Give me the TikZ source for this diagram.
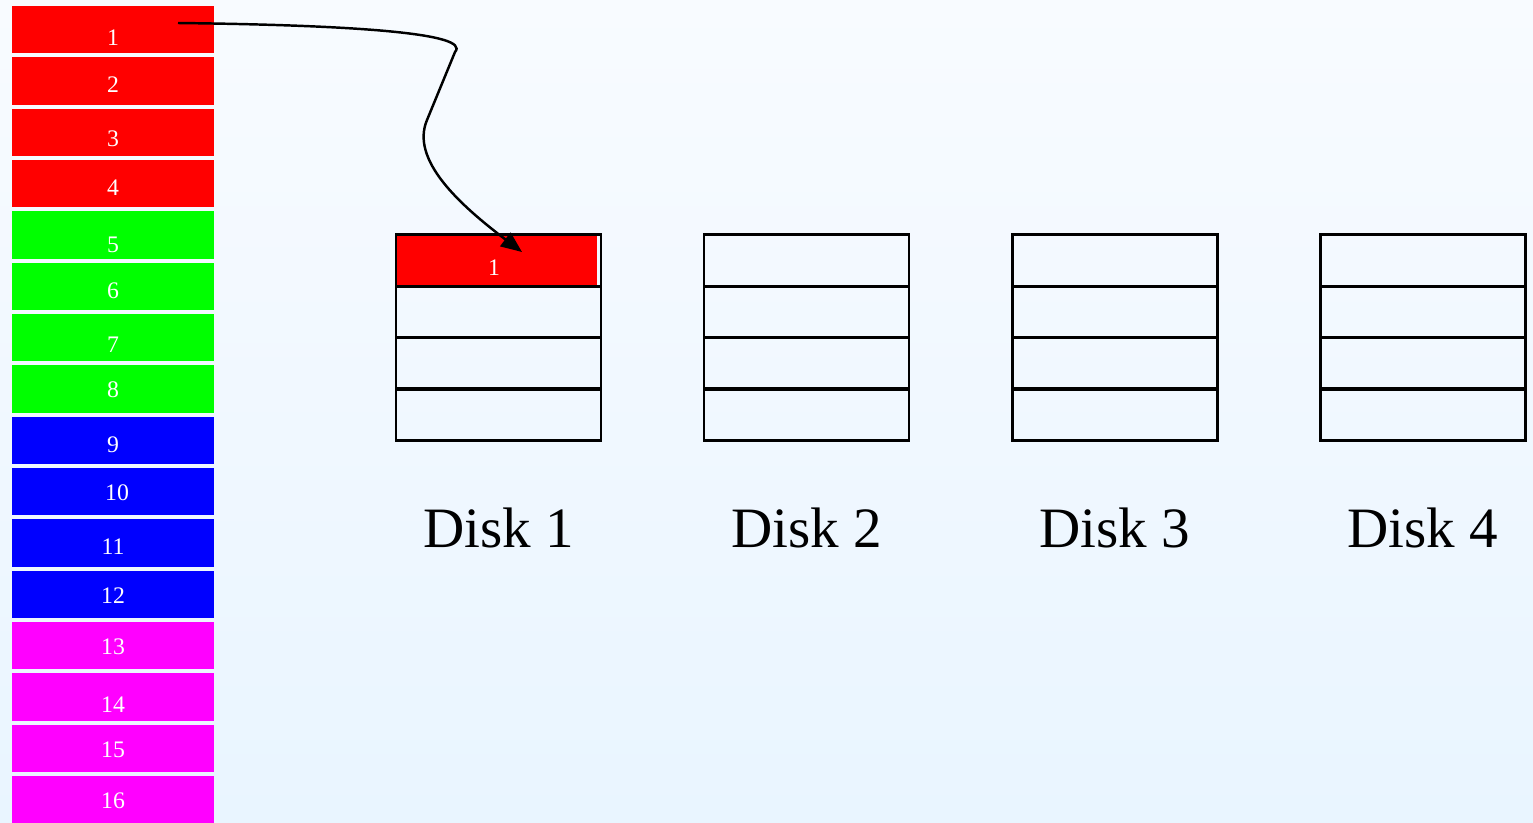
\documentclass[tikz,border=0pt]{standalone}
\usepackage{fontspec}
\setmainfont{Liberation Serif}
\usetikzlibrary{arrows.meta}
\definecolor{bgtop}{RGB}{248,251,255}
\definecolor{bgbot}{RGB}{233,245,255}
\definecolor{pgreen}{RGB}{0,255,0}
\definecolor{pmag}{RGB}{255,0,255}
\begin{document}
\begin{tikzpicture}[x=0.02cm,y=-0.02cm,
 blk/.style={rectangle,inner sep=0,minimum width=4.04cm,minimum height=0.95cm,draw=none},
 num/.style={text=white,font=\fontsize{13.5}{13.5}\selectfont,inner sep=0},
 cell/.style={rectangle,draw=black,line width=1.6pt,inner sep=0,minimum width=4.1cm,minimum height=1.03cm},
 disklabel/.style={font=\fontsize{32.5}{32.5}\selectfont,inner sep=0},
 link/.style={line width=1.4pt,-{Triangle[length=0.42cm,width=0.34cm]}}]
\shade[top color=bgtop,bottom color=bgbot] (0,0) rectangle (1533,822);
\useasboundingbox (0,0) rectangle (1533,822);
% stripe blocks
\foreach \i/\c/\lx/\ly in {1/red/113/38,2/red/113/85,3/red/113/139,4/red/113/188,
  5/pgreen/113/245,6/pgreen/113/291,7/pgreen/113/345,8/pgreen/113/390,
  9/blue/113/445,10/blue/117/493,11/blue/113/547,12/blue/113/596,
  13/pmag/113/647,14/pmag/113/705,15/pmag/113/750,16/pmag/113/801}{
  \node[blk,fill=\c] (b\i) at (113,{6+(\i-1)*51.33+23.75}) {};
  \node[num] (n\i) at (\lx,\ly) {\i};
}
% disk 1 first cell fill
\fill[red] (396,235) rectangle (597,286);
% disks
\foreach \d/\x in {1/498.5,2/806.5,3/1115,4/1423}{
  \foreach \r/\y in {1/260.5,2/312,3/363.5,4/414.5}{
    \node[cell] (d\d r\r) at (\x,\y) {};
  }
  \node[disklabel] (lab\d) at (\x,528) {Disk \d};
}
\node[num] (c1) at (494,268) {1};
% arrow
\coordinate (src) at (178,23);
\coordinate (tip) at (522,252);
\draw[link] (src) .. controls (350,25) and (472,33) .. (455,52)
  -- (427,120) .. controls (410,160) and (460,205) .. (tip);
\end{tikzpicture}
\end{document}
